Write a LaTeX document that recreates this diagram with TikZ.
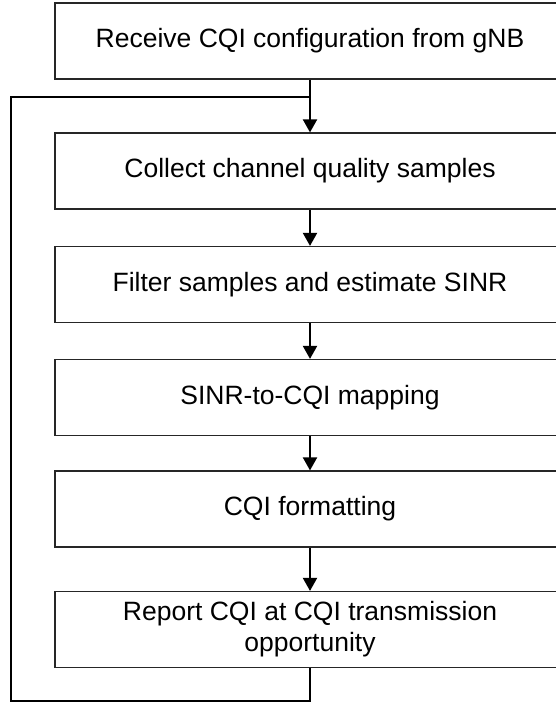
\documentclass[tikz,border=0pt]{standalone}
\usepackage{fontspec}
\setmainfont{Liberation Sans}
\usetikzlibrary{arrows.meta}
\begin{document}
\begin{tikzpicture}[x=1pt,y=-1pt,
  stepbox/.style={draw=black!85, line width=1.2pt, fill=white, minimum width=510pt, minimum height=76pt, inner sep=0pt, align=center, font=\fontsize{26.5}{31}\selectfont},
  flow/.style={line width=2pt, -{Triangle[width=14pt,length=13pt]}},
  loopline/.style={line width=2.6pt}]
\clip (0,0) rectangle (556,705);
\fill[white] (0,0) rectangle (556,705);
\node[stepbox] (b1) at (310,41) {Receive CQI configuration from gNB};
\node[stepbox] (b2) at (310,171) {Collect channel quality samples};
\node[stepbox] (b3) at (310,284.5) {Filter samples and estimate SINR};
\node[stepbox] (b4) at (310,397.5) {SINR-to-CQI mapping};
\node[stepbox] (b5) at (310,509) {CQI formatting};
\node[stepbox] (b6) at (310,629.5) {Report CQI at CQI transmission\\opportunity};
\coordinate (lb) at (11,701);
\coordinate (lt) at (11,97);
\coordinate (j) at (310,97);
\draw[loopline] (b6.south) |- (lb) -- (lt) -- (j);
\draw[flow] (b1) -- (b2);
\draw[flow] (b2) -- (b3);
\draw[flow] (b3) -- (b4);
\draw[flow] (b4) -- (b5);
\draw[flow] (b5) -- (b6);
\end{tikzpicture}
\end{document}
